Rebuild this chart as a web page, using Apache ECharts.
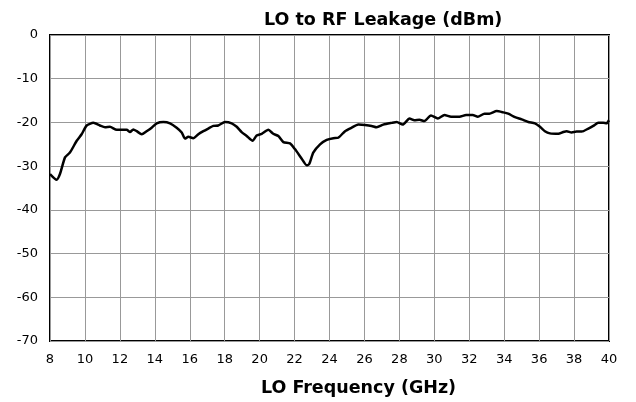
<!DOCTYPE html>
<html>
<head>
<meta charset="utf-8">
<script src="https://cdn.jsdelivr.net/npm/echarts@6/dist/echarts.min.js"></script>
<style>
  html, body { margin: 0; padding: 0; background: #fff; }
  #chart { width: 636px; height: 402px; }
</style>
</head>
<body>
<div id="chart"></div>
<script>
// LO frequency (GHz) and LO-to-RF leakage (dBm)
const freqs = [
  8.0, 8.38, 8.57, 8.86, 9.14, 9.53, 9.81, 10.1, 10.48, 10.86,
  11.15, 11.43, 11.82, 12.39, 12.58, 12.77, 12.96, 13.25, 13.53, 13.82,
  14.11, 14.49, 14.87, 15.25, 15.54, 15.73, 15.92, 16.2, 16.49, 16.78,
  17.06, 17.35, 17.63, 18.02, 18.4, 18.69, 18.97, 19.26, 19.6, 19.83,
  20.12, 20.5, 20.78, 21.07, 21.36, 21.74, 22.02, 22.41, 22.69, 22.84,
  23.07, 23.46, 23.84, 24.22, 24.5, 24.89, 25.27, 25.65, 26.03, 26.41,
  26.7, 27.08, 27.56, 27.85, 28.19, 28.58, 28.86, 29.15, 29.43, 29.81,
  30.2, 30.58, 30.96, 31.44, 31.82, 32.2, 32.49, 32.87, 33.15, 33.57,
  33.95, 34.23, 34.62, 35.0, 35.38, 35.76, 36.05, 36.33, 36.62, 37.1,
  37.38, 37.58, 37.86, 38.15, 38.44, 38.82, 39.1, 39.39, 39.67, 39.86, 40.0
]
const leakage = [
  -31.8, -33.1, -31.8, -28.0, -26.9, -24.2, -22.7, -20.7, -20.1, -20.7,
  -21.1, -21.0, -21.7, -21.7, -22.2, -21.6, -22.0, -22.7, -22.0, -21.2,
  -20.2, -19.9, -20.2, -21.2, -22.3, -23.7, -23.3, -23.6, -22.7, -22.0,
  -21.4, -20.8, -20.7, -19.9, -20.2, -21.0, -22.2, -23.1, -24.2, -23.0,
  -22.6, -21.7, -22.6, -23.1, -24.5, -24.8, -26.1, -28.3, -29.8, -29.5,
  -26.9, -25.0, -24.0, -23.6, -23.5, -22.0, -21.2, -20.5, -20.6, -20.8,
  -21.1, -20.5, -20.1, -19.9, -20.5, -19.1, -19.5, -19.4, -19.7, -18.4,
  -19.1, -18.3, -18.7, -18.7, -18.3, -18.3, -18.7, -18.0, -18.0, -17.4,
  -17.7, -18.0, -18.8, -19.3, -19.9, -20.2, -21.0, -22.0, -22.5, -22.6,
  -22.2, -22.0, -22.3, -22.1, -22.1, -21.4, -20.8, -20.1, -20.1, -20.2, -19.5
]

const font = 'DejaVu Sans'
const chart = echarts.init(document.getElementById('chart'))

chart.setOption({
  animation: false,
  title: {
    text: 'LO to RF Leakage (dBm)',
    left: 259,
    top: 6,
    textStyle: { fontFamily: font, fontSize: 17.5, fontWeight: 'bold', color: '#000' }
  },
  grid: {
    left: 50,
    right: 27,
    top: 35,
    bottom: 59,
    show: true,
    borderColor: '#000',
    borderWidth: 2
  },
  xAxis: {
    type: 'value',
    min: 8,
    max: 40,
    interval: 2,
    name: 'LO Frequency (GHz)',
    nameLocation: 'middle',
    nameGap: 38,
    nameTextStyle: {
      fontFamily: font, fontSize: 17.5, fontWeight: 'bold', color: '#000',
      padding: [0, 0, 0, 58]
    },
    axisLine: { show: false },
    axisTick: { show: false },
    axisLabel: { fontFamily: font, fontSize: 13, color: '#000', margin: 12 },
    splitLine: { lineStyle: { color: '#999', width: 1 } }
  },
  yAxis: {
    type: 'value',
    min: -70,
    max: 0,
    interval: 10,
    axisLine: { show: false },
    axisTick: { show: false },
    axisLabel: { fontFamily: font, fontSize: 13, color: '#000', margin: 12 },
    splitLine: { lineStyle: { color: '#999', width: 1 } }
  },
  series: [{
    type: 'line',
    data: freqs.map((f, i) => [f, leakage[i]]),
    showSymbol: false,
    smooth: 0.2,
    lineStyle: { color: '#000', width: 2.5 }
  }]
})
</script>
</body>
</html>
